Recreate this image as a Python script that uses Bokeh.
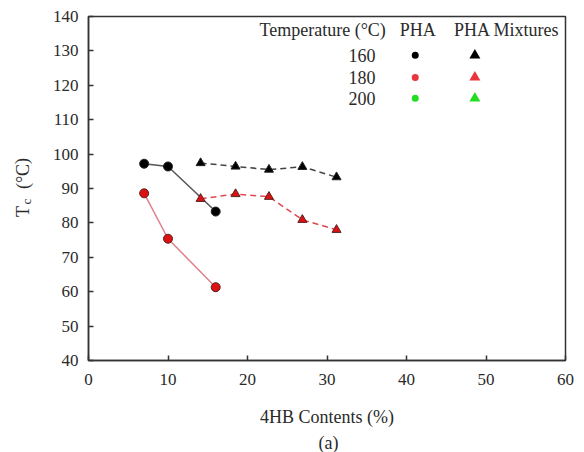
from bokeh.plotting import figure
from bokeh.models import Label, Range1d, FixedTicker
from bokeh.embed import file_html
from bokeh.resources import INLINE

# data
pha_x = [7, 10, 16]
pha_160 = [97.2, 96.4, 83.3]
pha_180 = [88.6, 75.4, 61.3]
mix_x = [14.1, 18.5, 22.7, 26.9, 31.2]
mix_160 = [97.4, 96.4, 95.5, 96.3, 93.3]
mix_180 = [87.0, 88.4, 87.6, 80.9, 78.0]
temps = ["160", "180", "200"]
temp_colors = ["#000000", "#e8363c", "#22dd22"]
x_ticks = [0, 10, 20, 30, 40, 50, 60]
y_ticks = [40, 50, 60, 70, 80, 90, 100, 110, 120, 130, 140]

FONT = "Liberation Serif"
TXT = "#2a2a2a"

p = figure(width=576, height=452, output_backend="svg", toolbar_location=None,
           x_range=Range1d(0, 60), y_range=Range1d(40, 140),
           min_border_left=88, min_border_right=11, min_border_top=16, min_border_bottom=92)
p.grid.visible = False
p.outline_line_color = "#333333"
p.outline_line_width = 1.5
p.background_fill_color = "white"
p.border_fill_color = "white"

for ax in (p.xaxis[0], p.yaxis[0]):
    ax.axis_line_color = "#333333"
    ax.axis_line_width = 1.5
    ax.major_tick_in = 5
    ax.major_tick_out = 0
    ax.major_tick_line_color = "#333333"
    ax.major_tick_line_width = 1.5
    ax.minor_tick_line_color = None
    ax.major_label_text_font = FONT
    ax.major_label_text_font_size = "17px"
    ax.major_label_text_color = TXT
p.xaxis.ticker = FixedTicker(ticks=x_ticks)
p.yaxis.ticker = FixedTicker(ticks=y_ticks)
p.xaxis.major_label_standoff = 13
p.yaxis.major_label_standoff = 10
p.xaxis.axis_label = "4HB Contents (%)"
p.xaxis.axis_label_text_font = FONT
p.xaxis.axis_label_text_font_style = "normal"
p.xaxis.axis_label_text_font_size = "18px"
p.xaxis.axis_label_text_color = TXT
p.xaxis.axis_label_standoff = 19

# lines
p.line(pha_x, pha_160, line_color="#555555", line_width=1.5)
p.line(pha_x, pha_180, line_color="#e08088", line_width=1.5)
p.line(mix_x, mix_160, line_color="#444444", line_width=1.5, line_dash="6 4")
p.line(mix_x, mix_180, line_color="#e04850", line_width=1.5, line_dash="6 4")

p.scatter(pha_x, pha_160, marker="circle", size=9, fill_color="black", line_color="#222222")
p.scatter(pha_x, pha_180, marker="circle", size=9, fill_color="#dd1111", line_color="#552222")
p.scatter(mix_x, mix_160, marker="triangle", size=9, fill_color="black", line_color="#222222")
p.scatter(mix_x, mix_180, marker="triangle", size=9, fill_color="#dd1111", line_color="#552222")

# legend table (data-space layout)
hdr_y = 136.0
row_y = [128.7, 122.3, 116.2]
lab = dict(text_font=FONT, text_font_size="18px", text_baseline="middle", text_color=TXT)
p.add_layout(Label(x=37.4, y=hdr_y, text="Temperature (°C)", text_align="right", **lab))
p.add_layout(Label(x=41.4, y=hdr_y, text="PHA", text_align="center", **lab))
p.add_layout(Label(x=52.6, y=hdr_y, text="PHA Mixtures", text_align="center", **lab))
for t, ry in zip(temps, row_y):
    p.add_layout(Label(x=36.1, y=ry, text=t, text_align="right", **lab))
p.scatter([41.1] * 3, row_y, marker="circle", size=7, fill_color=temp_colors, line_color=None)
p.scatter([48.6] * 3, row_y, marker="triangle", size=11, fill_color=temp_colors, line_color=None)

# y axis title "Tc (°C)" with subscript, in canvas pixels
ylab = dict(x_units="canvas", y_units="canvas", angle=1.5708, text_font=FONT,
            text_align="center", text_baseline="middle", text_color=TXT)
p.add_layout(Label(x=22, y=211, text="T", text_font_size="18px", **ylab), "left")
p.add_layout(Label(x=22, y=173, text="(°C)", text_font_size="18px", **ylab), "left")
p.add_layout(Label(x=26, y=201, text="c", text_font_size="13px", **ylab), "above")

# (a) caption
p.add_layout(Label(x=328, y=442, x_units="canvas", y_units="canvas", text="(a)",
                   text_font=FONT, text_font_size="18px", text_align="center",
                   text_baseline="middle", text_color=TXT), "below")

open("out.html", "w").write(file_html(p, INLINE))
